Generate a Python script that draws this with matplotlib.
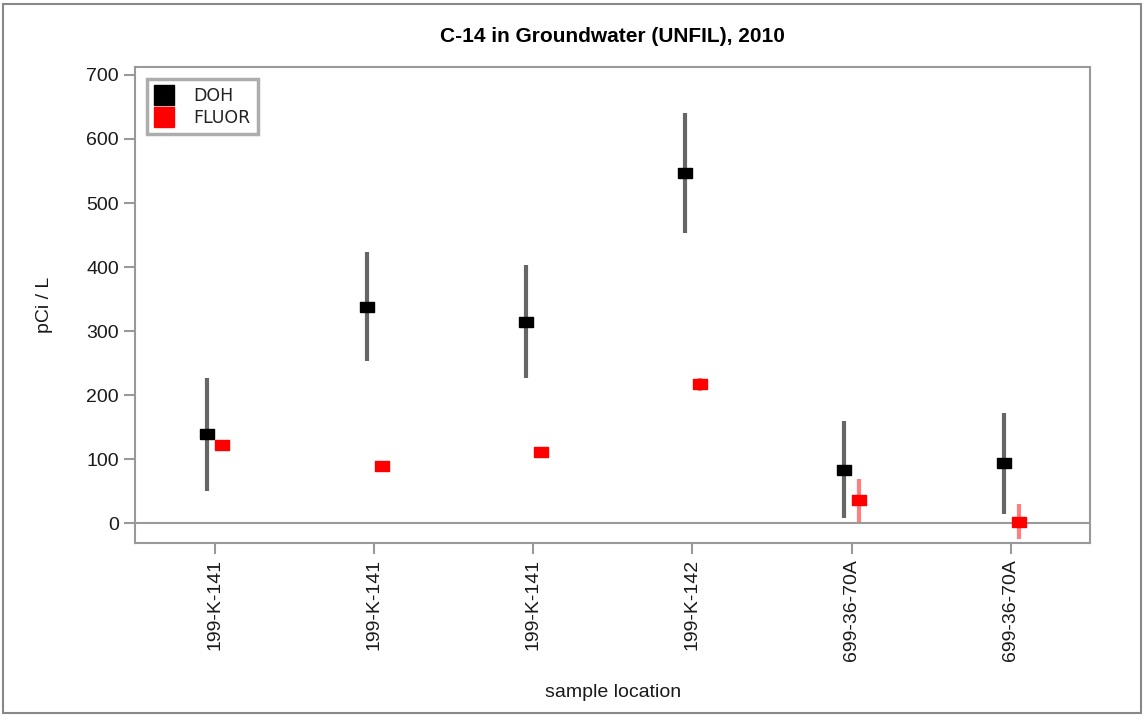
import matplotlib.pyplot as plt
from matplotlib.patches import Rectangle

plt.rcParams['font.family'] = ['Liberation Sans', 'DejaVu Sans']

# Data
locations = ['199-K-141', '199-K-141', '199-K-141', '199-K-142', '699-36-70A', '699-36-70A']
doh_values = [139, 338, 315, 547, 84, 94]
doh_errors = [88, 85, 88, 93, 76, 79]
fluor_values = [123, 89, 111, 217, 36, 3]
fluor_errors = [7, 5, 6, 10, 34, 28]

fig = plt.figure(figsize=(11.43, 7.15), dpi=100)
ax = fig.add_axes([0.118, 0.241, 0.836, 0.665])

x = list(range(len(locations)))
x_doh = [i - 0.045 for i in x]
x_fluor = [i + 0.05 for i in x]

rect = [(-1, -0.72), (1, -0.72), (1, 0.72), (-1, 0.72), (-1, -0.72)]

ax.axhline(0, color='#999999', lw=1.5, zorder=1)
ax.errorbar(x_doh, doh_values, yerr=doh_errors, fmt='none', ecolor='#666666',
            elinewidth=3, capsize=0, zorder=2)
ax.errorbar(x_fluor, fluor_values, yerr=fluor_errors, fmt='none', ecolor='#ff7f7f',
            elinewidth=3, capsize=0, zorder=2)
ax.plot(x_doh, doh_values, linestyle='none', marker=rect, markersize=10,
        color='black', label='DOH', zorder=3)
ax.plot(x_fluor, fluor_values, linestyle='none', marker=rect, markersize=9.5,
        color='red', label='FLUOR', zorder=3)

ax.set_xlim(-0.5, 5.5)
ax.set_ylim(-30, 712)
ax.set_yticks([0, 100, 200, 300, 400, 500, 600, 700])
ax.set_xticks(x)
ax.set_xticklabels(locations, rotation=90, fontsize=14)
ax.tick_params(axis='y', labelsize=14)
ax.tick_params(colors='#999999', width=1.5, length=8, labelcolor='#1a1a1a')
for s in ax.spines.values():
    s.set_color('#999999')
    s.set_linewidth(1.5)

ax.set_title('C-14 in Groundwater (UNFIL), 2010', fontsize=15, fontweight='bold', pad=18)
ax.set_xlabel('sample location', fontsize=14, labelpad=17, color='#1a1a1a')
ax.set_ylabel('pCi / L', fontsize=14, labelpad=24, color='#1a1a1a')

leg = ax.legend(loc='upper left', prop={'family': 'DejaVu Sans', 'size': 12.5},
                frameon=True, fancybox=False, handlelength=1.0, handletextpad=1.2,
                borderpad=0.45, labelspacing=0.2, borderaxespad=0.7)
leg.get_frame().set_edgecolor('#999999')
leg.get_frame().set_linewidth(2.5)
for t in leg.get_texts():
    t.set_color('#222222')
for h in leg.legend_handles:
    h.set_marker('s')
    h.set_markersize(15)

fig.patches.append(Rectangle((0.003, 0.003), 0.995, 0.992, transform=fig.transFigure,
                             fill=False, edgecolor='#888888', lw=1.5))

fig.savefig('out.png', dpi=100)
